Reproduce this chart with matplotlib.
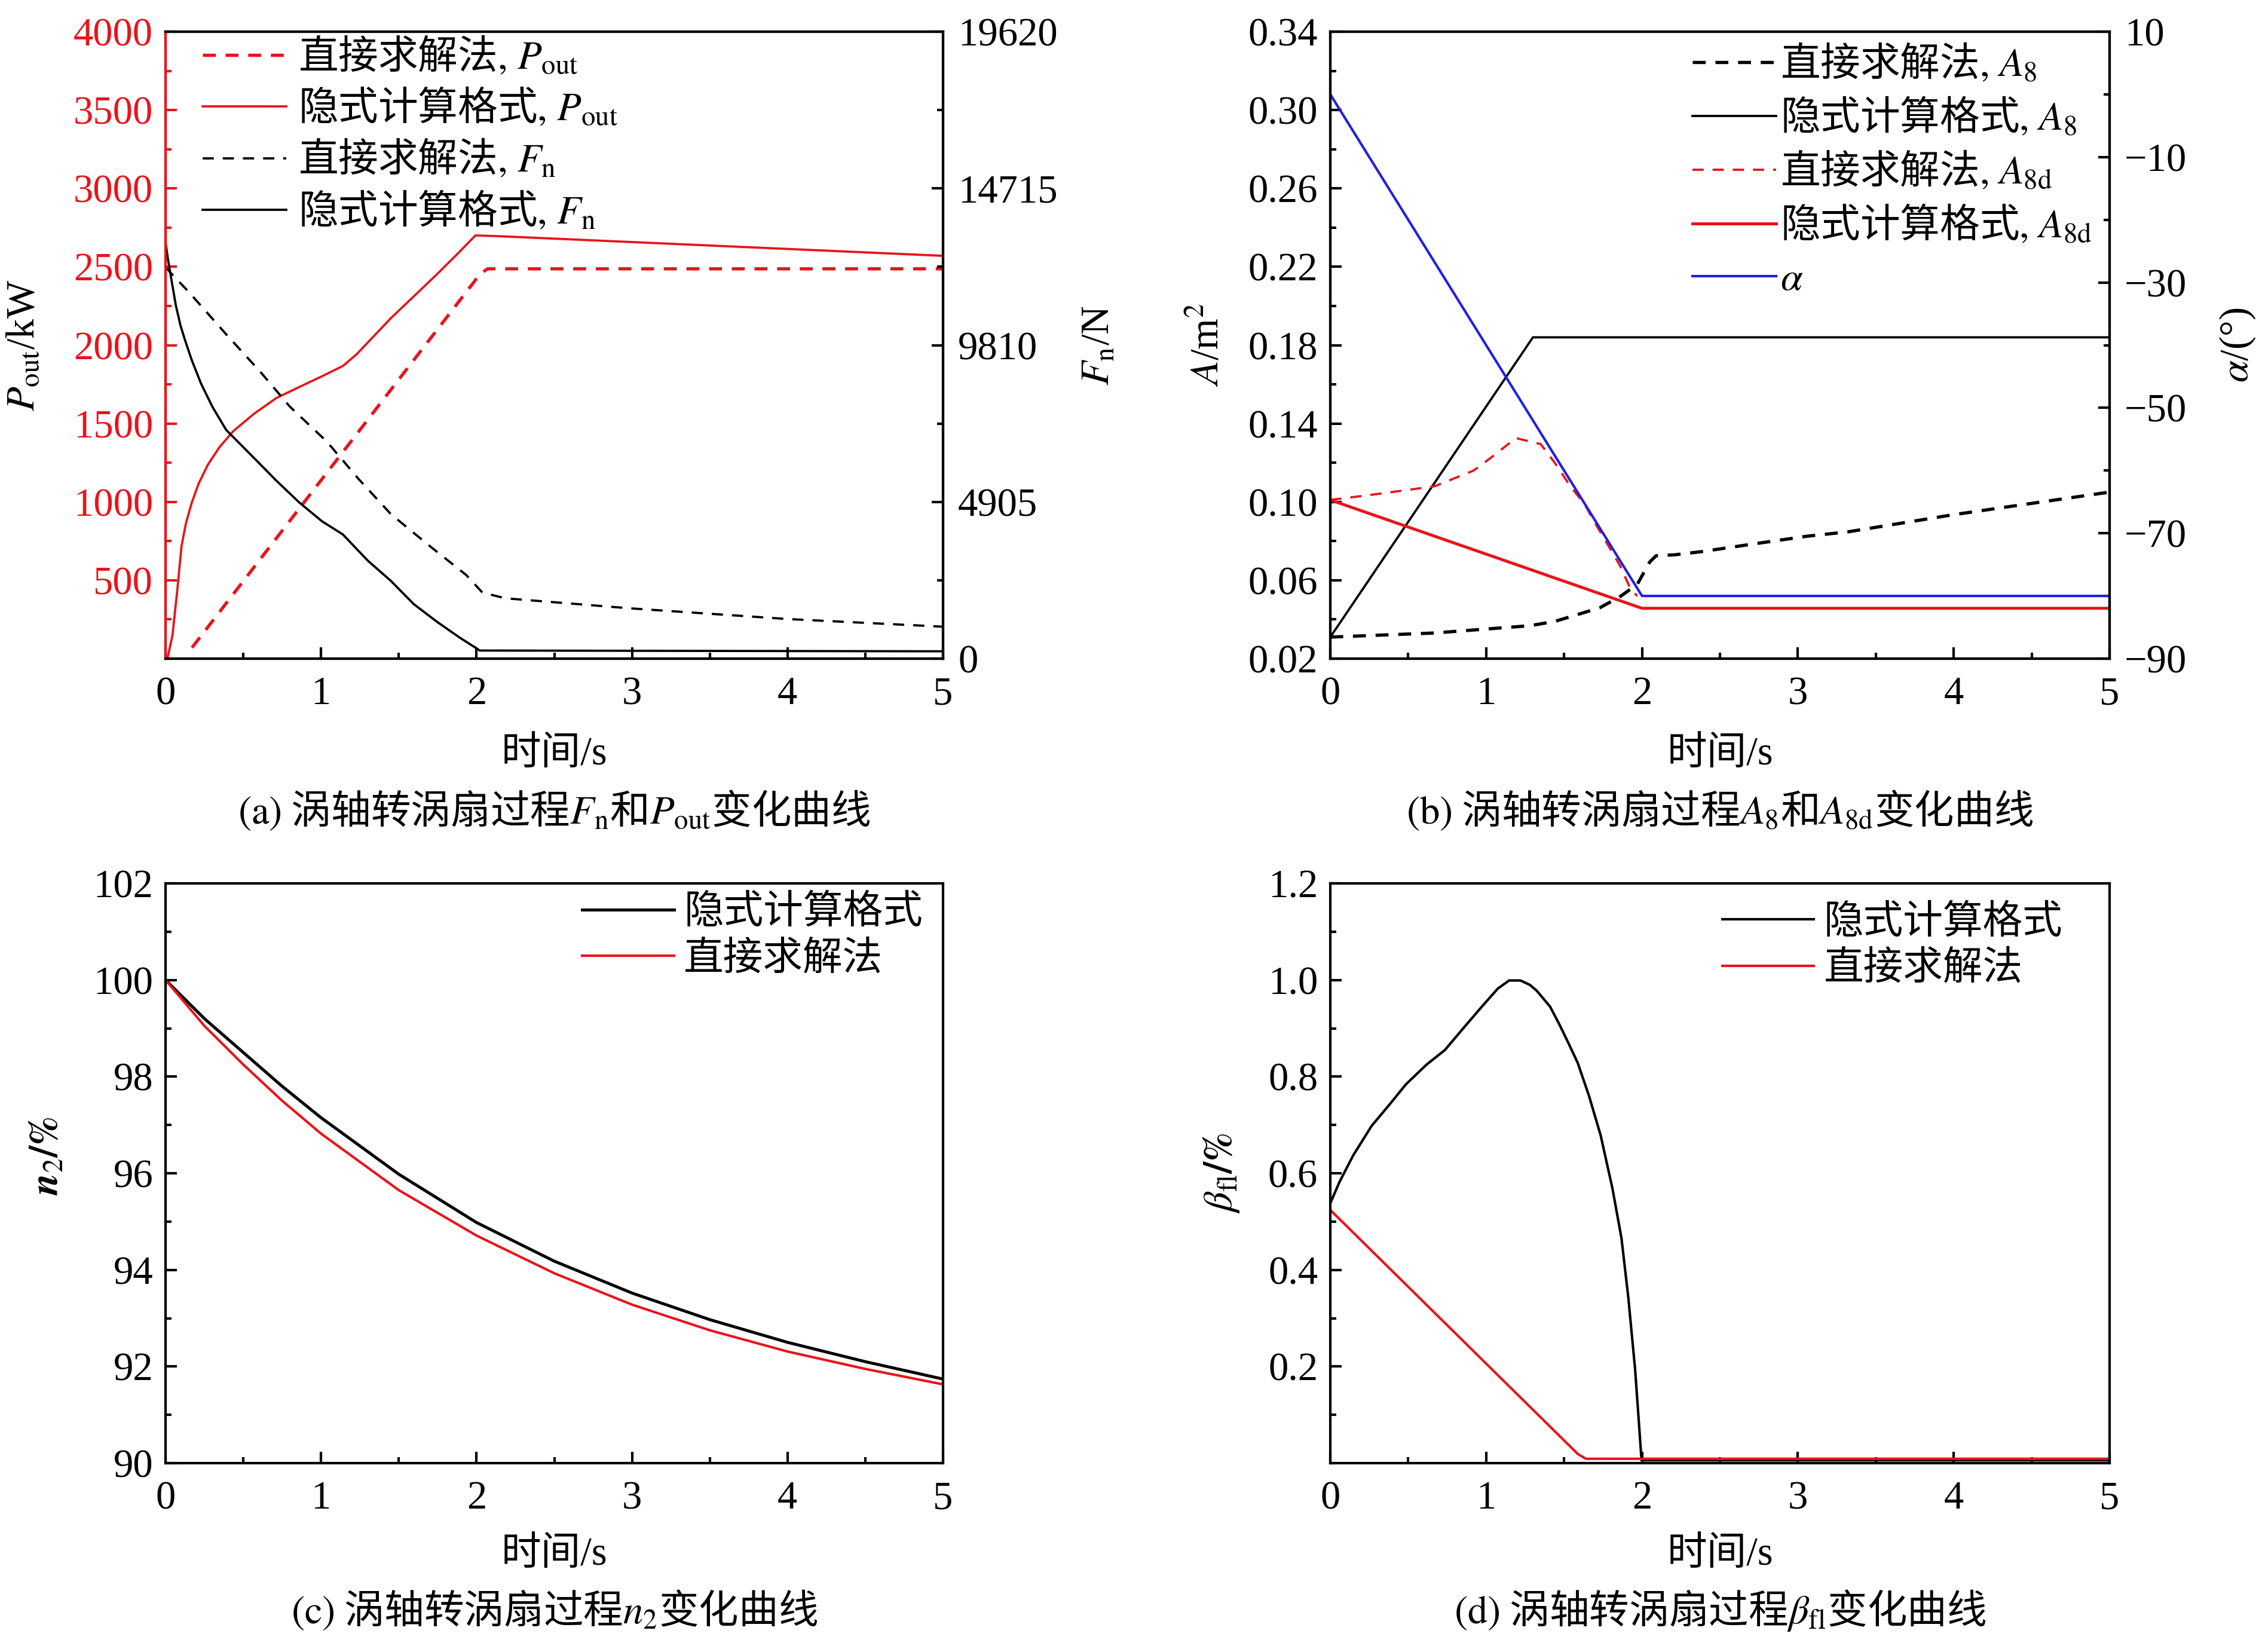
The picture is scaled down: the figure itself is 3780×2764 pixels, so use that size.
import matplotlib
matplotlib.use('Agg')
import matplotlib.pyplot as plt
from matplotlib.font_manager import FontProperties
from matplotlib.ticker import MultipleLocator, FixedLocator, FixedFormatter, FormatStrFormatter

plt.rcParams['font.family'] = ['Liberation Serif', 'Noto Sans CJK SC']
plt.rcParams['mathtext.fontset'] = 'stix'
plt.rcParams['font.size'] = 16
plt.rcParams['axes.unicode_minus'] = True
plt.rcParams['axes.linewidth'] = 1.0

CJK = FontProperties(family='Noto Sans CJK SC', size=16)

# ---------------- data (a) ----------------
t_pout_imp = [0, 0.015, 0.044, 0.074, 0.103, 0.132, 0.169, 0.213, 0.272, 0.346, 0.434, 0.566,
              0.713, 0.86, 1.007, 1.14, 1.228, 1.449, 1.596, 1.743, 1.89, 1.993, 2.15, 5.0]
pout_imp = [0, 15, 144, 422, 719, 867, 996, 1117, 1237, 1348, 1450, 1560,
            1663, 1733, 1802, 1867, 1941, 2172, 2311, 2450, 2595, 2700, 2695, 2570]
t_pout_dir = [0.17, 2.02, 2.07, 5.0]
pout_dir = [70, 2450, 2487, 2487]
t_fn_imp = [0, 0.015, 0.037, 0.066, 0.096, 0.125, 0.169, 0.228, 0.301, 0.39, 0.566, 0.713,
            0.86, 1.007, 1.14, 1.3, 1.449, 1.596, 1.743, 1.89, 1.993, 2.02, 5.0]
fn_imp = [13016, 12516, 11880, 11063, 10427, 9973, 9337, 8611, 7884, 7157, 6294, 5568,
          4887, 4296, 3888, 3070, 2434, 1708, 1163, 663, 345, 254, 230]
t_fn_dir = [0, 0.154, 0.39, 0.61, 0.8, 1.037, 1.243, 1.449, 1.699, 1.934, 2.037, 2.184, 3.0, 4.0, 5.0]
fn_dir = [12244, 11450, 10150, 8974, 7884, 6794, 5613, 4523, 3524, 2616, 2071, 1889, 1570, 1240, 1000]
pout_ticks = [500, 1000, 1500, 2000, 2500, 3000, 3500, 4000]
fn_ticks = [0, 4905, 9810, 14715, 19620]

# ---------------- data (b) ----------------
t_alpha = [0, 2.0, 5.0]
alpha = [0, -80, -80]
t_a8_imp = [0, 1.3, 5.0]
a8_imp = [0.031, 0.184, 0.184]
t_a8_dir = [0, 0.67, 0.98, 1.28, 1.44, 1.59, 1.73, 1.86, 1.97, 2.05, 2.09, 2.21, 2.38, 2.72, 3.06,
            3.32, 4.0, 5.0]
a8_dir = [0.031, 0.0331, 0.035, 0.0368, 0.039, 0.0426, 0.046, 0.0517, 0.058, 0.0694, 0.0725, 0.073,
          0.0746, 0.0786, 0.0825, 0.0847, 0.0935, 0.105]
t_a8d_dir = [0, 0.3, 0.67, 0.92, 1.06, 1.19, 1.35, 1.44, 1.54, 1.63, 1.71, 1.80, 1.86, 1.93, 1.97]
a8d_dir = [0.101, 0.104, 0.108, 0.116, 0.1243, 0.1326, 0.1295, 0.120, 0.108, 0.099, 0.0877, 0.0755,
           0.0673, 0.055, 0.052]
t_a8d_imp = [0, 2.0, 5.0]
a8d_imp = [0.101, 0.0457, 0.0457]
a_ticks = [0.02, 0.06, 0.10, 0.14, 0.18, 0.22, 0.26, 0.30, 0.34]
alpha_ticks = [-90, -70, -50, -30, -10, 10]

# ---------------- data (c) ----------------
t_n2 = [0, 0.25, 0.5, 0.75, 1.0, 1.5, 2.0, 2.5, 3.0, 3.5, 4.0, 4.5, 5.0]
n2_imp = [100.0, 99.2, 98.5, 97.8, 97.15, 95.98, 94.98, 94.18, 93.52, 92.97, 92.5, 92.1, 91.74]
n2_dir = [100.0, 99.05, 98.25, 97.5, 96.82, 95.65, 94.71, 93.93, 93.28, 92.75, 92.31, 91.95, 91.63]

# ---------------- data (d) ----------------
t_beta_imp = [0, 0.059, 0.147, 0.265, 0.382, 0.485, 0.618, 0.735, 0.853, 0.97, 1.074, 1.147, 1.22,
              1.28, 1.324, 1.41, 1.47, 1.53, 1.588, 1.66, 1.735, 1.81, 1.868, 1.912, 1.956, 1.997, 5.0]
beta_imp = [0.538, 0.582, 0.637, 0.698, 0.743, 0.784, 0.825, 0.855, 0.9, 0.944, 0.982, 0.999, 0.999,
            0.99, 0.978, 0.945, 0.908, 0.868, 0.828, 0.76, 0.678, 0.569, 0.466, 0.343, 0.193, 0.006,
            0.006]
t_beta_dir = [0, 1.588, 1.64, 5.0]
beta_dir = [0.524, 0.019, 0.009, 0.009]

RED = '#e8141c'
BLUE = '#1f1fe6'

W, H = 3780, 2764
fig = plt.figure(figsize=(W / 300, H / 300), dpi=300)


def rect(l, r, t, b):
    return [l / W, 1 - b / H, (r - l) / W, (b - t) / H]


def style_x(ax):
    ax.set_xlim(0, 5)
    ax.xaxis.set_major_locator(MultipleLocator(1))
    ax.xaxis.set_minor_locator(MultipleLocator(0.5))
    ax.tick_params(axis='both', which='both', direction='in', top=False, right=False)
    ax.tick_params(axis='both', which='major', length=4.5, width=1.0)
    ax.tick_params(axis='both', which='minor', length=2.5, width=1.0)
    ax.tick_params(axis='x', pad=7)
    ax.tick_params(axis='y', pad=5)
    ax.set_xlabel('时间/s')
    ax.xaxis.set_label_coords(0.5, -0.124)


def style_twin(ax2):
    ax2.tick_params(axis='y', which='both', direction='in', right=True, left=False, pad=6)
    ax2.tick_params(axis='y', which='major', length=4.5, width=1.0)
    ax2.tick_params(axis='y', which='minor', length=2.5, width=1.0)


# ================= (a) =================
axa = fig.add_axes(rect(277, 1578, 53, 1102))
axa2 = axa.twinx()
l1, = axa.plot(t_pout_dir, pout_dir, color=RED, lw=1.3, ls=(0, (4, 3)))
l2, = axa.plot(t_pout_imp, pout_imp, color=RED, lw=0.9)
l3, = axa2.plot(t_fn_dir, fn_dir, color='black', lw=0.9, ls=(0, (5, 4)))
l4, = axa2.plot(t_fn_imp, fn_imp, color='black', lw=0.9)
axa.set_ylim(0, 4000)
axa.yaxis.set_major_locator(FixedLocator(pout_ticks))
axa.yaxis.set_minor_locator(MultipleLocator(250))
axa2.set_ylim(0, 19620)
axa2.yaxis.set_major_locator(FixedLocator(fn_ticks))
axa2.yaxis.set_minor_locator(FixedLocator([2452.5, 7357.5, 12262.5, 17167.5]))
axa2.yaxis.set_major_formatter(FixedFormatter([str(v) for v in fn_ticks]))
style_x(axa)
style_twin(axa2)
axa.tick_params(axis='y', which='both', colors=RED)
axa.spines['left'].set_color(RED)
axa2.spines['left'].set_color(RED)
axa.set_ylabel('$P_{\\rm out}$/kW')
axa.yaxis.set_label_coords(-0.158, 0.5)
axa2.set_ylabel('$F_{\\rm n}$/N')
axa2.yaxis.set_label_coords(1.177, 0.5)
axa.legend([l1, l2, l3, l4],
           ['直接求解法$\\mathrm{,}\\ P_{\\rm out}$', '隐式计算格式$\\mathrm{,}\\ P_{\\rm out}$',
            '直接求解法$\\mathrm{,}\\ F_{\\rm n}$', '隐式计算格式$\\mathrm{,}\\ F_{\\rm n}$'],
           prop=CJK, loc='upper left', bbox_to_anchor=(0.048, 0.993), frameon=False, borderpad=0,
           borderaxespad=0, handlelength=2.1, handletextpad=0.3, labelspacing=0.24)

# ================= (b) =================
axb = fig.add_axes(rect(2226, 3530, 53, 1102))
axb2 = axb.twinx()
m1, = axb.plot(t_a8_dir, a8_dir, color='black', lw=1.3, ls=(0, (4, 3)))
m2, = axb.plot(t_a8_imp, a8_imp, color='black', lw=0.9)
m3, = axb.plot(t_a8d_dir, a8d_dir, color=RED, lw=0.9, ls=(0, (5, 4)))
m4, = axb.plot(t_a8d_imp, a8d_imp, color=RED, lw=1.2)
m5, = axb2.plot(t_alpha, alpha, color=BLUE, lw=1.0)
axb.set_ylim(0.02, 0.34)
axb.yaxis.set_major_locator(FixedLocator(a_ticks))
axb.yaxis.set_minor_locator(FixedLocator([0.04, 0.08, 0.12, 0.16, 0.20, 0.24, 0.28, 0.32]))
axb.yaxis.set_major_formatter(FormatStrFormatter('%.2f'))
axb2.set_ylim(-90, 10)
axb2.yaxis.set_major_locator(FixedLocator(alpha_ticks))
axb2.yaxis.set_minor_locator(FixedLocator([-80, -60, -40, -20, 0]))
style_x(axb)
style_twin(axb2)
axb.set_ylabel('$A$/m$^2$')
axb.yaxis.set_label_coords(-0.133, 0.5)
axb2.set_ylabel('$\\alpha$/(°)')
axb2.yaxis.set_label_coords(1.139, 0.5)
axb.legend([m1, m2, m3, m4, m5],
           ['直接求解法$\\mathrm{,}\\ A_8$', '隐式计算格式$\\mathrm{,}\\ A_8$',
            '直接求解法$\\mathrm{,}\\ A_{\\rm 8d}$', '隐式计算格式$\\mathrm{,}\\ A_{\\rm 8d}$',
            '$\\alpha$'],
           prop=CJK, loc='upper left', bbox_to_anchor=(0.465, 0.982), frameon=False, borderpad=0,
           borderaxespad=0, handlelength=2.1, handletextpad=0.1, labelspacing=0.3)

# ================= (c) =================
axc = fig.add_axes(rect(277, 1578, 1478, 2448))
n1, = axc.plot(t_n2, n2_imp, color='black', lw=1.2)
n2, = axc.plot(t_n2, n2_dir, color=RED, lw=1.0)
axc.set_ylim(90, 102)
axc.yaxis.set_major_locator(MultipleLocator(2))
axc.yaxis.set_minor_locator(MultipleLocator(1))
style_x(axc)
axc.xaxis.set_label_coords(0.5, -0.127)
axc.set_ylabel('$\\mathbfit{n}_{2}\\mathbf{/\\%}$')
axc.yaxis.set_label_coords(-0.128, 0.53)
axc.legend([n1, n2], ['隐式计算格式', '直接求解法'], prop=CJK, loc='upper left',
           bbox_to_anchor=(0.536, 0.985), frameon=False, borderpad=0, borderaxespad=0,
           handlelength=2.3, handletextpad=0.25, labelspacing=0.15)

# ================= (d) =================
axd = fig.add_axes(rect(2226, 3530, 1478, 2448))
b1, = axd.plot(t_beta_imp, beta_imp, color='black', lw=1.0)
b2, = axd.plot(t_beta_dir, beta_dir, color=RED, lw=1.0)
axd.set_ylim(0, 1.2)
axd.yaxis.set_major_locator(FixedLocator([0.2, 0.4, 0.6, 0.8, 1.0, 1.2]))
axd.yaxis.set_minor_locator(MultipleLocator(0.1))
axd.yaxis.set_major_formatter(FormatStrFormatter('%.1f'))
style_x(axd)
axd.xaxis.set_label_coords(0.5, -0.127)
axd.set_ylabel('$\\beta_{\\rm fl}\\mathbf{/\\%}$')
axd.yaxis.set_label_coords(-0.114, 0.5)
axd.legend([b1, b2], ['隐式计算格式', '直接求解法'], prop=CJK, loc='upper left',
           bbox_to_anchor=(0.503, 0.968), frameon=False, borderpad=0, borderaxespad=0,
           handlelength=2.3, handletextpad=0.25, labelspacing=0.15)

# captions
cap_kw = dict(ha='center', va='center', fontproperties=CJK)
fig.text((277 + 1578) / 2 / W, 1 - 1357 / H,
         '$\\mathrm{(a)}$ 涡轴转涡扇过程$F_{\\rm n}$和$P_{\\rm out}$变化曲线', **cap_kw)
fig.text((2226 + 3530) / 2 / W, 1 - 1357 / H,
         '$\\mathrm{(b)}$ 涡轴转涡扇过程$A_8$和$A_{\\rm 8d}$变化曲线', **cap_kw)
fig.text((277 + 1578) / 2 / W, 1 - 2695 / H,
         '$\\mathrm{(c)}$ 涡轴转涡扇过程$n_2$变化曲线', **cap_kw)
fig.text((2226 + 3530) / 2 / W, 1 - 2695 / H,
         '$\\mathrm{(d)}$ 涡轴转涡扇过程$\\beta_{\\rm fl}$变化曲线', **cap_kw)

fig.savefig('out.png', dpi=300)
